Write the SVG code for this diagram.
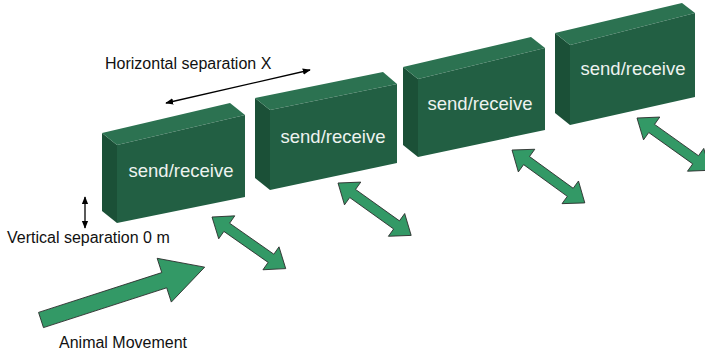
<svg xmlns="http://www.w3.org/2000/svg" width="705" height="356" viewBox="0 0 705 356">
<defs>
<style>
.front{fill:#225f43;}
.top{fill:#2c7251;}
.side{fill:#1b5037;}
.lbl{font-family:"Liberation Sans",Arial,sans-serif;font-size:18.5px;fill:#eef3f0;text-anchor:middle;}
.txt{font-family:"Liberation Sans",Arial,sans-serif;font-size:16px;fill:#111;}
.garrow{fill:#339966;stroke:#2a2a2a;stroke-width:0.8;stroke-linejoin:miter;}
.bline{stroke:#000;stroke-width:1.3;fill:none;}
</style>
<marker id="ah" viewBox="0 0 10 10" refX="9" refY="5" markerWidth="8" markerHeight="8" markerUnits="userSpaceOnUse" orient="auto-start-reverse">
<path d="M0,1 L10,5 L0,9 Z" fill="#000"/>
</marker>
<path id="dbl" d="M0,0 L18,-14 L18,-5 L72,-5 L72,-14 L90,0 L72,14 L72,5 L18,5 L18,14 Z"/>
</defs>
<rect width="705" height="356" fill="#fff"/>

<g id="box1">
<polygon class="side" points="102,133 117,145 117,223 102,211"/>
<polygon class="top" points="102,133 230,103 245,115 117,145"/>
<polygon class="front" points="117,145 245,115 245,197 117,223"/>
<text class="lbl" x="181" y="177">send/receive</text>
</g>
<g id="box2">
<polygon class="side" points="255,98 270,110 270,190 255,178"/>
<polygon class="top" points="255,98 383,72 397,84 270,110"/>
<polygon class="front" points="270,110 397,84 397,163 270,190"/>
<text class="lbl" x="333" y="143">send/receive</text>
</g>
<g id="box3">
<polygon class="side" points="403,67 418,79 418,157 403,145"/>
<polygon class="top" points="403,67 531,37 545,48 418,79"/>
<polygon class="front" points="418,79 545,48 545,130 418,157"/>
<text class="lbl" x="480" y="110">send/receive</text>
</g>
<g id="box4">
<polygon class="side" points="555,33 570,45 570,125 555,113"/>
<polygon class="top" points="555,33 682,3 695,13 570,45"/>
<polygon class="front" points="570,45 695,13 695,97 570,125"/>
<text class="lbl" x="633" y="75">send/receive</text>
</g>

<g id="connectors">
<use href="#dbl" class="garrow" transform="translate(212,217) rotate(35)"/>
<use href="#dbl" class="garrow" transform="translate(338,183) rotate(35.6)"/>
<use href="#dbl" class="garrow" transform="translate(512,150) rotate(36)"/>
<use href="#dbl" class="garrow" transform="translate(637,118) rotate(35.5)"/>
<path class="garrow" transform="translate(41,320) rotate(-17.9)" d="M0,-8 L129.5,-8 L129.5,-23 L172,0 L129.5,23 L129.5,8 L0,8 Z"/>
<line class="bline" x1="166" y1="103" x2="310" y2="70" marker-start="url(#ah)" marker-end="url(#ah)"/>
<line class="bline" x1="85" y1="197" x2="85" y2="228" marker-start="url(#ah)" marker-end="url(#ah)"/>
</g>

<g id="labels">
<text class="txt" x="105" y="69">Horizontal separation X</text>
<text class="txt" x="7" y="243">Vertical separation 0 m</text>
<text class="txt" x="59" y="348">Animal Movement</text>
</g>
</svg>
